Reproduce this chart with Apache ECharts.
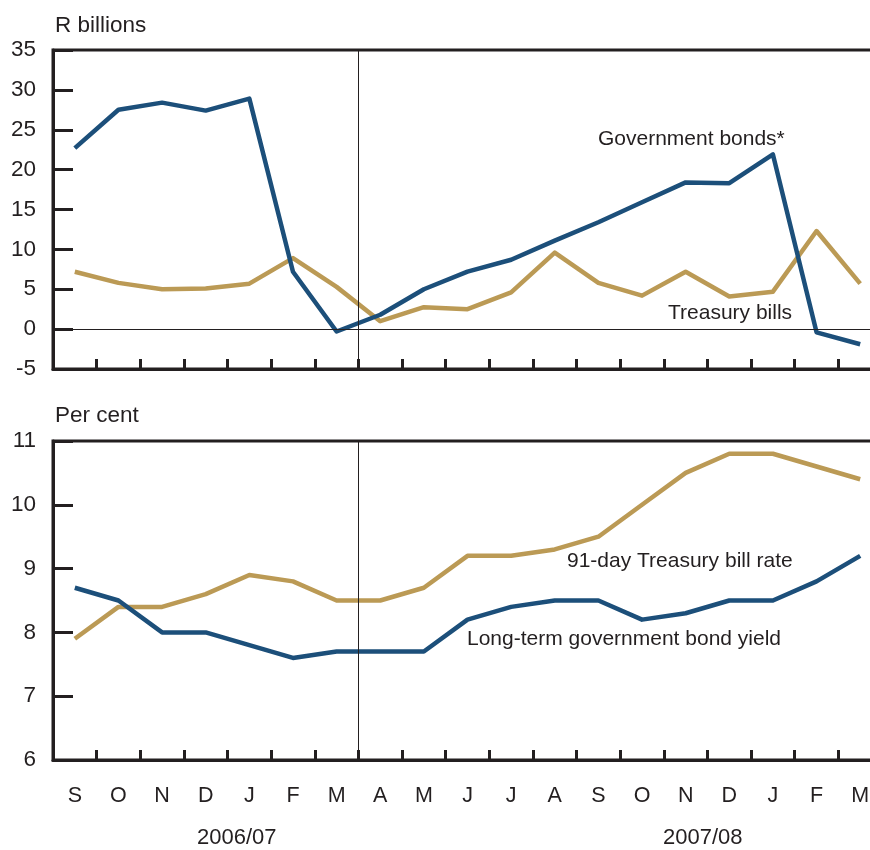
<!DOCTYPE html>
<html>
<head>
<meta charset="utf-8">
<script src="https://cdn.jsdelivr.net/npm/echarts@6/dist/echarts.min.js"></script>
<style>
html,body{margin:0;padding:0;background:#fff;}
#c{width:870px;height:850px;}
</style>
</head>
<body>
<div id="c"></div>
<script>
var months = ['S','O','N','D','J','F','M','A','M','J','J','A','S','O','N','D','J','F','M'];
var govBonds = [22.7,27.5,28.4,27.4,28.9,7.2,-0.3,1.8,5.0,7.2,8.7,11.1,13.4,15.9,18.4,18.3,21.9,-0.4,-1.9];
var treasuryBills = [7.2,5.8,5.0,5.1,5.7,8.9,5.3,1.0,2.75,2.5,4.6,9.6,5.8,4.2,7.2,4.1,4.7,12.3,5.7];
var tbRate = [7.9,8.4,8.4,8.6,8.9,8.8,8.5,8.5,8.7,9.2,9.2,9.3,9.5,10.0,10.5,10.8,10.8,10.6,10.4];
var bondYield = [8.7,8.5,8.0,8.0,7.8,7.6,7.7,7.7,7.7,8.2,8.4,8.5,8.5,8.2,8.3,8.5,8.5,8.8,9.2];
var topTicks = {min:-5, max:35, interval:5};
var botTicks = {min:6, max:11, interval:1};
var fiscalSplit = 6.5; // boundary between March and April (category index space)

var BLUE = '#1c4f7a', GOLD = '#bb9a55', INK = '#231f20';
var FONT = 'Liberation Sans, Arial, sans-serif';

function xAxis(gridIndex, showLabels){
  return {
    type:'category', gridIndex:gridIndex, data:months, boundaryGap:true,
    axisLine:{show:true, onZero:false, lineStyle:{color:INK, width:3}},
    axisTick:{show:true, inside:true, length:10, lineStyle:{color:INK, width:3}, interval:0},
    axisLabel:{show:showLabels, interval:0, color:INK, fontSize:21.5, fontFamily:FONT, margin:25},
    splitLine:{show:false}
  };
}
function hiddenX(gridIndex){
  return {type:'value', gridIndex:gridIndex, min:-0.5, max:months.length-0.5, show:false,
    axisLine:{show:false, onZero:false}, splitLine:{show:false}};
}
function yAxis(gridIndex, t){
  return {
    type:'value', gridIndex:gridIndex, min:t.min, max:t.max, interval:t.interval,
    axisLine:{show:true, onZero:false, lineStyle:{color:INK, width:3}},
    axisTick:{show:true, inside:true, length:20, lineStyle:{color:INK, width:3}},
    axisLabel:{color:INK, fontSize:22.5, fontFamily:FONT, margin:17},
    splitLine:{show:false}
  };
}
function line(name, data, color, xi, extra){
  var s = {name:name, type:'line', xAxisIndex:xi, yAxisIndex:xi, data:data,
    symbol:'none', lineStyle:{color:color, width:4.5, join:'round'}, z:3, animation:false};
  if(extra) Object.assign(s, extra);
  return s;
}
function splitSeries(gi){
  return {type:'line', xAxisIndex:2+gi, yAxisIndex:gi, data:[], symbol:'none', silent:true,
    markLine:{silent:true, symbol:'none', label:{show:false}, animation:false,
      lineStyle:{color:INK, width:1, type:'solid'}, data:[{xAxis:fiscalSplit}]}, z:1};
}

var chart = echarts.init(document.getElementById('c'), null, {renderer:'canvas'});
chart.setOption({
  animation:false,
  backgroundColor:'#fff',
  grid:[
    {left:53, top:50, height:319, width:829, outerBoundsMode:'none', containLabel:false, show:true, borderColor:INK, borderWidth:3, backgroundColor:'transparent'},
    {left:53, top:441, height:319, width:829, outerBoundsMode:'none', containLabel:false, show:true, borderColor:INK, borderWidth:3, backgroundColor:'transparent'}
  ],
  xAxis:[xAxis(0,false), xAxis(1,true), hiddenX(0), hiddenX(1)],
  yAxis:[yAxis(0, topTicks), yAxis(1, botTicks)],
  series:[
    splitSeries(0), splitSeries(1),
    line('Treasury bills', treasuryBills, GOLD, 0, {
      markLine:{silent:true, symbol:'none', label:{show:false}, animation:false,
        lineStyle:{color:INK, width:1, type:'solid'}, data:[{yAxis:0}]}
    }),
    line('Government bonds*', govBonds, BLUE, 0),
    line('91-day Treasury bill rate', tbRate, GOLD, 1),
    line('Long-term government bond yield', bondYield, BLUE, 1)
  ],
  graphic:[
    {type:'text', left:55, top:14, style:{text:'R billions', fill:INK, font:'22.5px '+FONT}},
    {type:'text', left:55, top:404, style:{text:'Per cent', fill:INK, font:'22.5px '+FONT}},
    {type:'text', left:598, top:129, style:{text:'Government bonds*', fill:INK, font:'21px '+FONT}},
    {type:'text', left:668, top:303, style:{text:'Treasury bills', fill:INK, font:'21px '+FONT}},
    {type:'text', left:567, top:551, style:{text:'91-day Treasury bill rate', fill:INK, font:'21px '+FONT}},
    {type:'text', left:467, top:629, style:{text:'Long-term government bond yield', fill:INK, font:'21px '+FONT}},
    {type:'text', left:197, top:827, style:{text:'2006/07', fill:INK, font:'22px '+FONT}},
    {type:'text', left:663, top:827, style:{text:'2007/08', fill:INK, font:'22px '+FONT}}
  ]
});
</script>
</body>
</html>
